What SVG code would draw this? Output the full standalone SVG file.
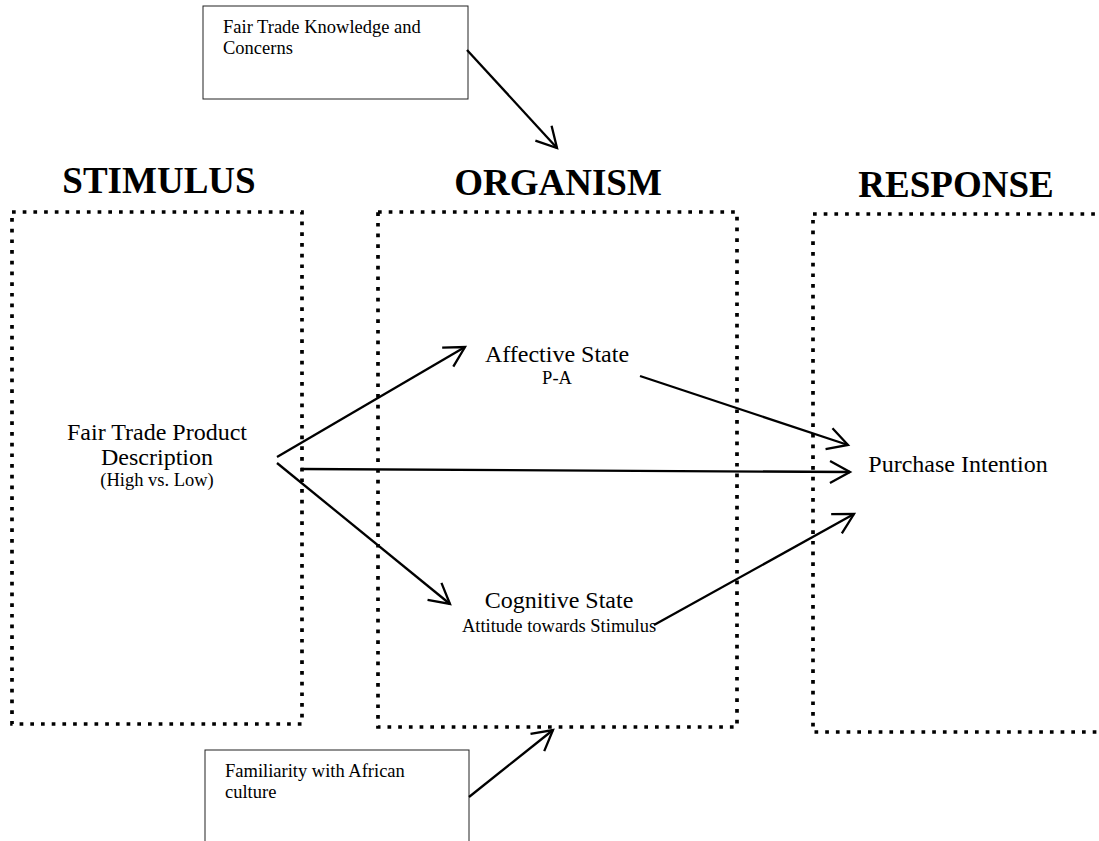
<svg xmlns="http://www.w3.org/2000/svg" width="1099" height="841" viewBox="0 0 1099 841">
<style>
.frame{fill:none;stroke:#000;stroke-width:3.7;stroke-dasharray:3.7 7}
.box{fill:#fff;stroke:#222;stroke-width:1}
.title{font-family:"Liberation Serif","Times New Roman",serif;font-weight:bold;font-size:37px;text-anchor:middle;fill:#000}
.lbl{font-family:"Liberation Serif","Times New Roman",serif;font-size:24px;text-anchor:middle;fill:#000}
.sub{font-family:"Liberation Serif","Times New Roman",serif;font-size:18.5px;text-anchor:middle;fill:#000}
.note{font-family:"Liberation Serif","Times New Roman",serif;font-size:18.5px;fill:#000}
.arrow{fill:none;stroke:#000;stroke-width:2.3;marker-end:url(#v)}
</style>
<defs>
<marker id="v" viewBox="-24 -14 27 28" markerWidth="27" markerHeight="28" refX="0" refY="0" orient="auto" markerUnits="userSpaceOnUse">
<path d="M-20,-11 L0,0 L-20,11" fill="none" stroke="#000" stroke-width="2.3"/>
</marker>
</defs>
<rect width="1099" height="841" fill="#fff"/>
<g id="stimulus">
<text class="title" x="159" y="193">STIMULUS</text>
<rect class="frame" x="12" y="212" width="290" height="512"/>
<text class="lbl" x="157" y="440">Fair Trade Product</text>
<text class="lbl" x="157" y="465">Description</text>
<text class="sub" x="157" y="486">(High vs. Low)</text>
</g>
<g id="organism">
<text class="title" x="558" y="195">ORGANISM</text>
<rect class="frame" x="378" y="212" width="359" height="515"/>
</g>
<g id="affective">
<text class="lbl" x="557" y="362">Affective State</text>
<text class="sub" x="557" y="384">P-A</text>
</g>
<g id="cognitive">
<text class="lbl" x="559" y="608">Cognitive State</text>
<text class="sub" x="559" y="632">Attitude towards Stimulus</text>
</g>
<g id="response">
<text class="title" x="956" y="197">RESPONSE</text>
<rect class="frame" x="813" y="214" width="300" height="518"/>
<text class="lbl" x="958" y="472">Purchase Intention</text>
</g>
<g id="knowledge">
<rect class="box" x="203" y="6" width="265" height="93"/>
<text class="note" x="223" y="33">Fair Trade Knowledge and</text>
<text class="note" x="223" y="54">Concerns</text>
</g>
<g id="familiarity">
<rect class="box" x="205" y="750" width="264" height="110"/>
<text class="note" x="225" y="777">Familiarity with African</text>
<text class="note" x="225" y="798">culture</text>
</g>
<g id="connectors">
<line class="arrow" x1="467" y1="50" x2="557" y2="148"/>
<line class="arrow" x1="469" y1="797" x2="553" y2="730"/>
<line class="arrow" x1="277" y1="457" x2="465" y2="347"/>
<line class="arrow" x1="277" y1="463" x2="450" y2="604"/>
<line class="arrow" x1="301" y1="469" x2="850" y2="472"/>
<line class="arrow" x1="640" y1="376" x2="848" y2="445"/>
<line class="arrow" x1="654" y1="625" x2="854" y2="514"/>
</g>
</svg>
